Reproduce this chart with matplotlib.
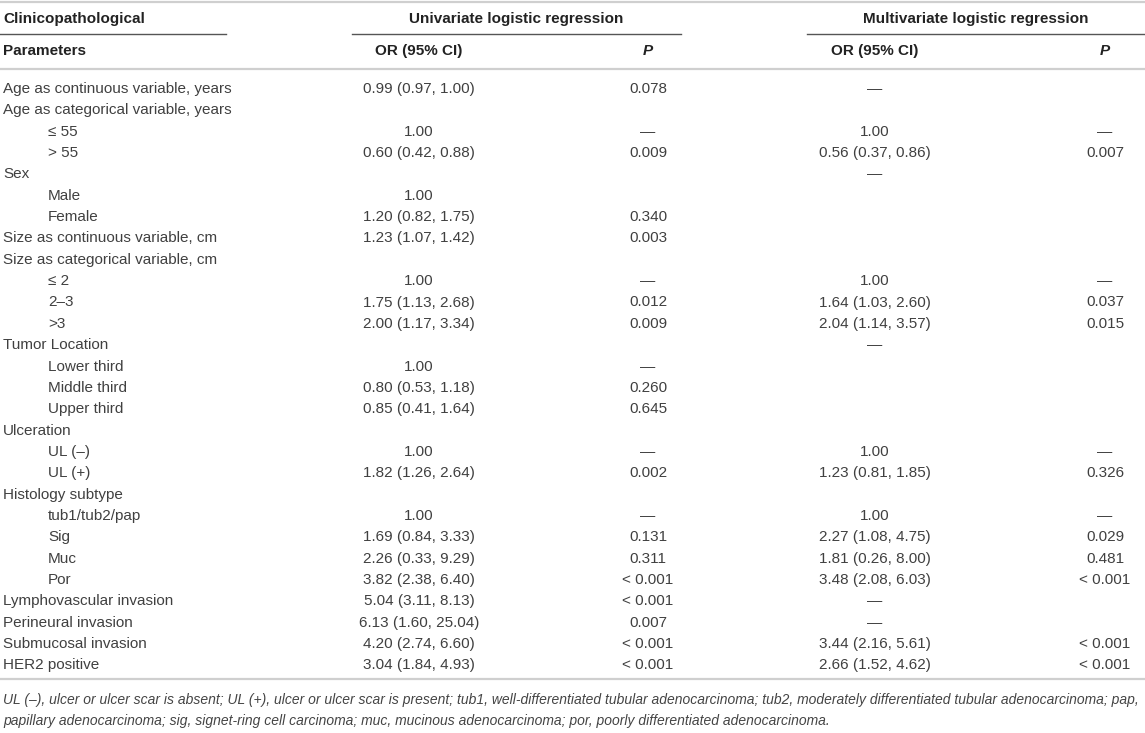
import matplotlib
matplotlib.use("Agg")
import matplotlib.pyplot as plt

# ---------------- data ----------------
labels = [
    "Age as continuous variable, years", "Age as categorical variable, years",
    "\u2264 55", "> 55", "Sex", "Male", "Female",
    "Size as continuous variable, cm", "Size as categorical variable, cm",
    "\u2264 2", "2\u20133", ">3", "Tumor Location", "Lower third", "Middle third",
    "Upper third", "Ulceration", "UL (\u2013)", "UL (+)", "Histology subtype",
    "tub1/tub2/pap", "Sig", "Muc", "Por", "Lymphovascular invasion",
    "Perineural invasion", "Submucosal invasion", "HER2 positive",
]
indented = [0, 0, 1, 1, 0, 1, 1, 0, 0, 1, 1, 1, 0, 1, 1, 1, 0, 1, 1, 0, 1, 1, 1, 1, 0, 0, 0, 0]
D = "\u2014"
uni_or = [
    "0.99 (0.97, 1.00)", "", "1.00", "0.60 (0.42, 0.88)", "", "1.00", "1.20 (0.82, 1.75)",
    "1.23 (1.07, 1.42)", "", "1.00", "1.75 (1.13, 2.68)", "2.00 (1.17, 3.34)", "", "1.00",
    "0.80 (0.53, 1.18)", "0.85 (0.41, 1.64)", "", "1.00", "1.82 (1.26, 2.64)", "", "1.00",
    "1.69 (0.84, 3.33)", "2.26 (0.33, 9.29)", "3.82 (2.38, 6.40)", "5.04 (3.11, 8.13)",
    "6.13 (1.60, 25.04)", "4.20 (2.74, 6.60)", "3.04 (1.84, 4.93)",
]
uni_p = [
    "0.078", "", D, "0.009", "", "", "0.340", "0.003", "", D, "0.012", "0.009", "", D,
    "0.260", "0.645", "", D, "0.002", "", D, "0.131", "0.311", "< 0.001", "< 0.001",
    "0.007", "< 0.001", "< 0.001",
]
multi_or = [
    D, "", "1.00", "0.56 (0.37, 0.86)", D, "", "", "", "", "1.00", "1.64 (1.03, 2.60)",
    "2.04 (1.14, 3.57)", D, "", "", "", "", "1.00", "1.23 (0.81, 1.85)", "", "1.00",
    "2.27 (1.08, 4.75)", "1.81 (0.26, 8.00)", "3.48 (2.08, 6.03)", D, D,
    "3.44 (2.16, 5.61)", "2.66 (1.52, 4.62)",
]
multi_p = [
    "", "", D, "0.007", "", "", "", "", "", D, "0.037", "0.015", "", "", "", "", "",
    D, "0.326", "", D, "0.029", "0.481", "< 0.001", "", "", "< 0.001", "< 0.001",
]
group_headers = ["Clinicopathological", "Univariate logistic regression", "Multivariate logistic regression"]
col_headers = ["Parameters", "OR (95% CI)", "P", "OR (95% CI)", "P"]
footnote = [
    "UL (\u2013), ulcer or ulcer scar is absent; UL (+), ulcer or ulcer scar is present; tub1, "
    "well-differentiated tubular adenocarcinoma; tub2, moderately differentiated tubular adenocarcinoma; pap,",
    "papillary adenocarcinoma; sig, signet-ring cell carcinoma; muc, mucinous adenocarcinoma; "
    "por, poorly differentiated adenocarcinoma.",
]

# ---------------- layout ----------------
W, H = 1145, 733
plt.rcParams["font.family"] = ["Liberation Sans", "DejaVu Sans"]
fig = plt.figure(figsize=(W / 100, H / 100), dpi=100)
ax = fig.add_axes([0, 0, 1, 1])
ax.set_xlim(0, W)
ax.set_ylim(H, 0)
ax.axis("off")

FS = 11.0
HFS = 11.0
TXT = "#404040"
HDR = "#222222"
RULE = "#cfcfcf"

x_label, x_indent = 3, 48
x_uor, x_up, x_mor, x_mp = 419, 648, 875, 1105
y0, dy = 89, 21.35

# rules
ax.plot([0, W], [1.5, 1.5], color=RULE, lw=1.6)
ax.plot([0, W], [69, 69], color=RULE, lw=1.6)
y_last = y0 + dy * (len(labels) - 1)
ax.plot([0, W], [y_last + 14, y_last + 14], color=RULE, lw=1.6)
ax.plot([0, 226], [34, 34], color="#555555", lw=1.0)
ax.plot([352, 681], [34, 34], color="#555555", lw=1.0)
ax.plot([807, W], [34, 34], color="#555555", lw=1.0)

# headers
ax.text(x_label, 19, group_headers[0], fontsize=HFS, fontweight="bold", color=HDR, va="center", ha="left")
ax.text(516, 19, group_headers[1], fontsize=HFS, fontweight="bold", color=HDR, va="center", ha="center")
ax.text(976, 19, group_headers[2], fontsize=HFS, fontweight="bold", color=HDR, va="center", ha="center")
ax.text(x_label, 51, col_headers[0], fontsize=HFS, fontweight="bold", color=HDR, va="center", ha="left")
ax.text(x_uor, 51, col_headers[1], fontsize=HFS, fontweight="bold", color=HDR, va="center", ha="center")
ax.text(x_up, 51, col_headers[2], fontsize=HFS, fontweight="bold", style="italic", color=HDR, va="center", ha="center")
ax.text(x_mor, 51, col_headers[3], fontsize=HFS, fontweight="bold", color=HDR, va="center", ha="center")
ax.text(x_mp, 51, col_headers[4], fontsize=HFS, fontweight="bold", style="italic", color=HDR, va="center", ha="center")

# body
for i, lab in enumerate(labels):
    y = y0 + dy * i
    ax.text(x_indent if indented[i] else x_label, y, lab, fontsize=FS, color=TXT, va="center", ha="left")
    for x, col in ((x_uor, uni_or), (x_up, uni_p), (x_mor, multi_or), (x_mp, multi_p)):
        if col[i]:
            ax.text(x, y, col[i], fontsize=FS, color=TXT, va="center", ha="center")

# footnote
for k, line in enumerate(footnote):
    ax.text(x_label, y_last + 35 + 21 * k, line, fontsize=10.0, style="italic", color="#444444",
            va="center", ha="left")

fig.savefig("out.png", dpi=100)
